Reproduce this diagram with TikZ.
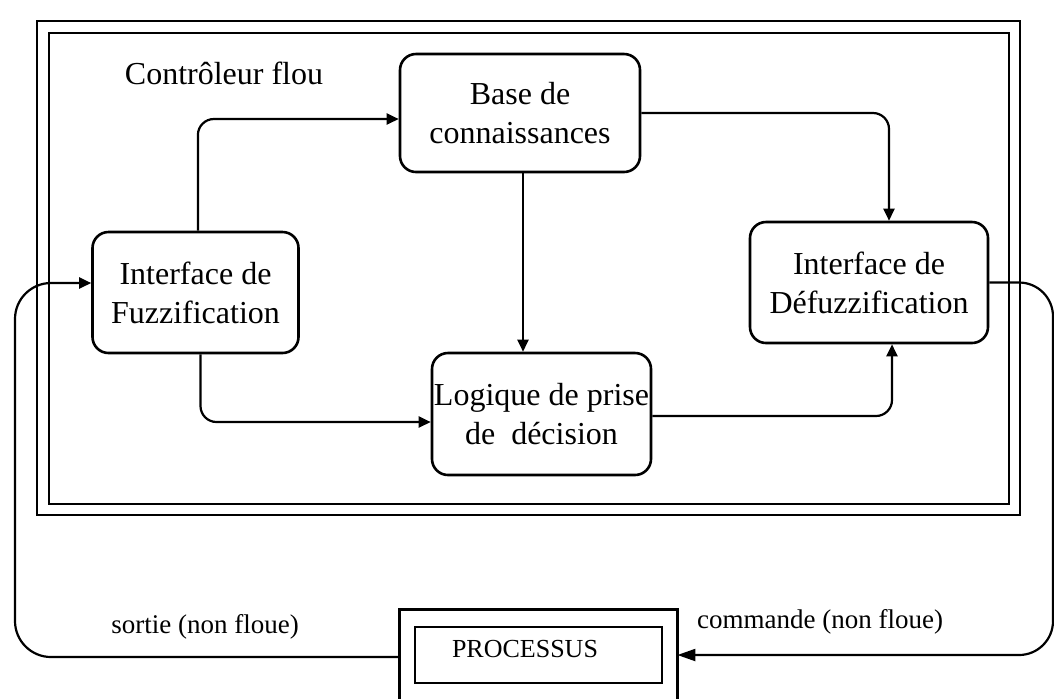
\documentclass[tikz,border=0pt]{standalone}
\usepackage{fontspec}
\setmainfont{Liberation Serif}
\usetikzlibrary{arrows.meta,positioning}
\tikzset{
  bloc/.style={draw, line width=1.3pt, rounded corners=8pt, align=center, inner sep=0pt,
    font=\fontsize{16}{19.5}\selectfont},
  fleche/.style={line width=1.1pt, -{Triangle[length=6pt,width=5.5pt]}},
  etiq/.style={font=\fontsize{13.5}{16}\selectfont},
  cadre/.style={line width=1.2pt}
}
\begin{document}
\begin{tikzpicture}[x=0.5pt,y=-0.5pt]
 \useasboundingbox (0,0) rectangle (1054,698);
 % double cadre du controleur
 \draw[cadre] (37,21) rectangle (1020,515);
 \draw[cadre] (49,33) rectangle (1009,504);
 \node[font=\fontsize{16}{19.5}\selectfont] (titre) at (224,73) {Contrôleur flou};
 % blocs
 \node[bloc, minimum width=103pt, minimum height=60.5pt] (fuzz) at (195.5,292.5) {Interface de\\Fuzzification};
 \node[bloc, minimum width=120pt, minimum height=59pt] (base) at (520,113) {Base de\\connaissances};
 \node[bloc, minimum width=119pt, minimum height=60.5pt] (defuzz) at (869,282.5) {Interface de\\Défuzzification};
 \node[bloc, minimum width=109.5pt, minimum height=61pt] (logique) at (541.5,414) {Logique de prise\\de~~décision};
 % processus
 \node[minimum width=138.5pt, minimum height=45pt, inner sep=0pt] (procbox) at (538.5,655) {};
 \draw[cadre] (procbox.south west) |- (procbox.north east) -- (procbox.south east);
 \node[draw, line width=1.2pt, minimum width=123.5pt, minimum height=28pt, inner sep=0pt,
   font=\fontsize{13}{15}\selectfont] (proc) at (538.5,655)
   {\raisebox{3pt}[\height][\depth]{PROCESSUS}\hspace*{13.5pt}};
 \coordinate (bordD) at (1053,0);
 \coordinate (bordG) at (15,0);
 % liaisons internes
 \draw[fleche, rounded corners=8pt] ([xshift=1.2pt]fuzz.north) |- ([yshift=-3pt]base.west);
 \draw[fleche, rounded corners=8pt] (base.east) -| ([xshift=10pt]defuzz.north);
 \draw[fleche] ([xshift=1.5pt]base.south) -- ([xshift=1.5pt]base.south |- logique.north);
 \draw[fleche, rounded corners=8pt] ([xshift=2.5pt]fuzz.south) |- ([yshift=-4pt]logique.west);
 \draw[fleche, rounded corners=8pt] ([yshift=-1pt]logique.east) -| ([xshift=11.5pt]defuzz.south);
 % boucle avec le processus
 \draw[line width=1.1pt, -{Triangle[length=9pt,width=6pt]}, rounded corners=17pt]
   (defuzz.east) -| (bordD |- procbox.east) -- (procbox.east);
 \draw[fleche, rounded corners=18pt]
   ([yshift=-1pt]procbox.west) -| ([yshift=4.75pt]fuzz.west -| bordG) -- ([yshift=4.75pt]fuzz.west);
 \node[etiq] (sortie) at (205,627) {sortie (non floue)};
 \node[etiq] (commande) at (820,622) {commande (non floue)};
\end{tikzpicture}
\end{document}
